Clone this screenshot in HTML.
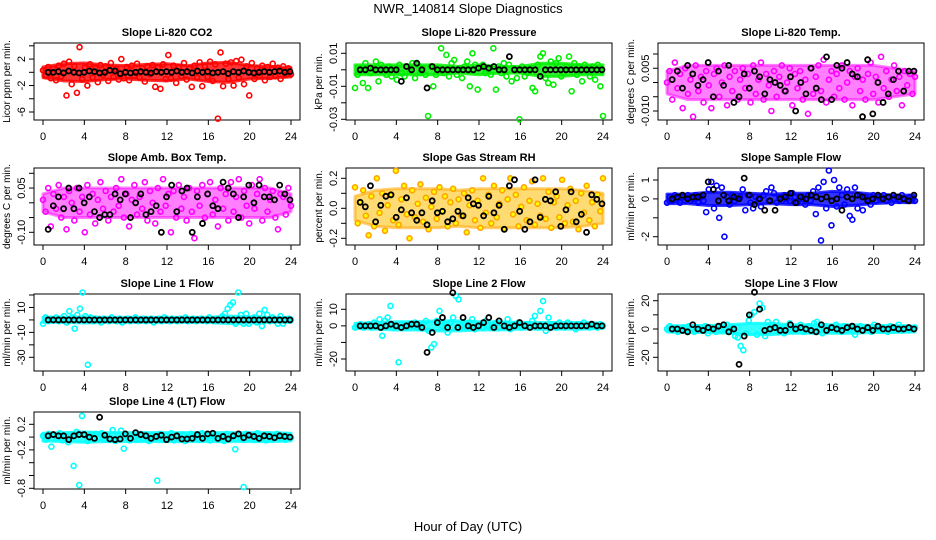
<!DOCTYPE html>
<html><head><meta charset="utf-8"><style>
html,body{margin:0;padding:0;background:#fff;}
svg{display:block;font-family:"Liberation Sans",Arial,sans-serif;}
</style></head><body>
<svg id="chart" width="936" height="540" viewBox="0 0 936 540">
<text x="468" y="13" text-anchor="middle" font-size="13">NWR_140814  Slope Diagnostics</text>
<text x="468" y="531" text-anchor="middle" font-size="13">Hour of Day (UTC)</text>
</svg>
<script>
const xTicks=[0,4,8,12,16,20,24];
const bandHours=[0,2,4,6,8,10,12,14,16,18,20,22,24];
const co2=[0.3,-0.5,0.8,-0.9,0.5,-1.2,1.0,-0.6,1.3,-3.5,1.6,-1.8,0.9,-3.1,3.8,-1.0,0.7,-2.0,1.2,-0.8,0.6,-1.5,1.1,-0.4,0.9,-1.3,1.4,-0.7,0.5,-1.1,2.0,-0.9,0.8,-1.2,1.0,-0.5,1.3,-0.8,0.6,-1.4,0.9,-0.3,1.1,-2.2,0.7,-2.5,1.2,-1.0,2.6,-0.9,1.0,-1.6,0.8,-0.6,1.4,-1.1,0.6,-2.2,1.0,-0.8,1.5,-2.1,0.9,-0.7,1.6,-1.3,1.2,-7.0,3.0,-2.1,1.3,-1.0,1.5,-2.0,1.7,-0.8,1.9,-1.8,0.9,-3.5,1.4,-1.0,0.6,-0.5,1.0,-1.2,0.8,-0.7,1.3,-0.6,0.7,-1.0,0.9,-0.4,0.6,-0.3];
const co2Band=[0.8,1.3,1.4,1.1,1.0,1.2,1.3,1.0,1.4,1.5,1.0,0.9,0.7];
const co2Ref=[0,0,0.1,-0.1,0.2,0,-0.1,0,0.2,0.1,-0.1,0,0.3,0.2,-0.2,0,-0.1,0,0.1,0,-0.1,0.1,0,0.1,0,0.2,0,0.1,-0.1,0.2,0,0.1,-0.1,0,0.1,-0.2,0.1,0,0.2,0,-0.1,0,0.1,0,0.1,0.2,0,0.1];
const pres=[-0.011,-0.003,0.001,-0.008,0.004,-0.011,-0.002,0.001,0.005,-0.007,0.003,-0.001,-0.003,0.002,-0.004,0.001,-0.006,0.003,-0.002,-0.004,0.002,-0.001,0.004,-0.005,0.003,-0.002,0.001,-0.003,-0.028,0.002,-0.010,-0.003,0.001,0.013,-0.002,0.009,-0.004,0.004,0.006,-0.003,0.001,-0.005,0.002,0.005,-0.010,0.010,0.003,-0.012,0.002,0.003,-0.002,0.000,-0.003,0.013,-0.012,0.002,-0.002,0.004,-0.004,0.003,-0.007,0.001,-0.005,-0.030,0.002,-0.004,-0.002,0.001,-0.011,-0.013,0.003,0.008,0.010,-0.005,-0.008,0.005,-0.009,0.004,0.007,-0.004,-0.002,0.002,0.008,-0.013,0.004,-0.003,0.002,-0.007,0.003,0.001,-0.004,0.002,-0.006,0.003,-0.010,-0.028];
const presBand=[0.003,0.003,0.003,0.003,0.003,0.002,0.003,0.002,0.002,0.004,0.004,0.003,0.003];
const presRef=[0,0,0.001,0,0,0,0,0,-0.007,0.002,0,0.004,0,-0.011,0.002,0,0,0,0,0,0,0,0,0.001,0.002,0.001,0.002,0,0,0.008,0,0,0,0,0,-0.004,0,0,0,0,0,0,0,0,0,0,0,0];
const temp=[0.000,0.004,-0.006,0.007,-0.002,0.003,-0.009,0.005,-0.004,0.001,-0.012,0.006,-0.003,0.002,-0.007,0.004,-0.001,-0.009,0.003,0.005,-0.005,0.000,0.006,-0.008,0.002,-0.003,0.004,-0.006,0.001,0.005,-0.002,0.003,-0.007,0.006,-0.004,0.001,0.007,-0.006,0.003,-0.001,-0.010,0.004,-0.005,0.002,0.006,-0.003,0.000,0.005,-0.008,0.003,-0.002,0.004,-0.006,0.001,-0.011,0.005,-0.004,0.002,0.006,-0.003,0.008,-0.007,0.001,0.004,-0.005,0.003,-0.002,0.006,-0.006,0.000,0.004,-0.008,0.002,0.005,-0.003,0.001,-0.006,0.003,0.007,-0.004,0.002,-0.007,0.009,-0.002,0.004,-0.005,0.001,0.006,-0.003,0.002,-0.008,0.004,-0.001,0.003,-0.004,0.002];
const tempBand=[0.004,0.006,0.006,0.006,0.006,0.006,0.006,0.006,0.006,0.006,0.006,0.005,0.004];
const tempRef=[0.001,0.004,-0.002,0.006,0.003,-0.001,0.001,0.007,-0.005,0.004,-0.001,0.006,-0.007,-0.005,0.003,-0.002,0.004,0.002,-0.004,0.001,0.000,-0.001,-0.003,0.002,-0.010,0.000,-0.004,0.005,-0.002,-0.006,0.009,-0.006,0.006,0.005,0.007,0.003,0.002,-0.012,0.008,-0.011,0.000,-0.007,-0.004,0.001,0.004,-0.003,0.004,0.004];
const amb=[0.01,-0.03,0.05,-0.08,0.03,-0.02,0.06,-0.05,0.02,-0.09,0.04,0.00,-0.06,0.05,-0.03,0.02,-0.10,0.06,-0.04,0.03,-0.07,0.01,0.07,-0.02,0.04,-0.06,0.02,-0.03,0.05,-0.01,0.08,-0.05,0.03,-0.08,0.01,0.06,-0.04,0.02,-0.02,0.07,-0.06,0.04,0.00,-0.07,0.05,-0.03,0.08,-0.01,0.03,-0.10,0.04,-0.05,0.06,-0.02,0.02,-0.06,0.05,-0.03,-0.12,0.04,-0.01,0.06,-0.05,0.03,0.07,-0.04,0.01,-0.08,0.05,-0.02,0.03,-0.06,0.07,-0.03,0.02,0.08,-0.05,0.04,-0.01,-0.07,0.06,-0.02,0.03,0.08,-0.06,0.05,-0.03,0.01,0.04,-0.05,-0.09,0.03,0.02,-0.04,0.05,-0.01];
const ambBand=[0.03,0.05,0.05,0.05,0.05,0.05,0.05,0.05,0.05,0.05,0.05,0.05,0.03];
const ambRef=[-0.09,-0.01,0.02,-0.02,0.05,-0.02,0.05,0.00,0.02,-0.03,-0.05,-0.04,-0.04,0.03,0.01,0.03,-0.05,0.00,0.03,-0.04,-0.03,-0.01,-0.10,0.02,0.06,-0.03,0.04,0.05,-0.10,0.02,-0.07,0.03,-0.01,-0.02,0.07,0.05,0.03,-0.05,0.02,0.06,0.00,0.06,0.02,0.02,0.01,0.06,0.03,0.01];
const rh=[0.14,-0.10,0.04,0.12,-0.05,-0.18,0.08,-0.12,0.20,-0.03,0.10,-0.15,0.02,0.09,-0.08,0.25,-0.11,0.06,0.15,-0.04,-0.20,0.12,-0.06,0.03,0.16,-0.09,0.07,-0.14,0.01,0.11,-0.07,0.14,-0.02,0.08,-0.12,0.04,0.13,-0.10,0.06,-0.05,0.10,-0.16,0.02,0.12,-0.08,0.05,-0.13,0.20,-0.03,0.09,-0.10,0.15,-0.06,0.03,0.12,-0.14,0.06,0.20,-0.04,0.09,-0.12,0.01,0.14,-0.08,0.05,0.18,-0.11,0.03,-0.05,0.20,-0.07,0.11,-0.13,0.04,0.08,-0.06,0.19,-0.10,0.02,0.13,-0.09,0.05,-0.14,0.10,-0.03,0.15,-0.08,0.04,-0.12,0.09,-0.02,0.20];
const rhBand=[0.08,0.12,0.13,0.13,0.13,0.12,0.13,0.13,0.13,0.13,0.13,0.12,0.10];
const rhRef=[0.04,0.01,0.15,-0.09,0.02,0.08,0.09,-0.06,-0.01,0.07,-0.03,-0.08,-0.03,-0.11,0.05,-0.03,-0.02,-0.09,-0.07,-0.02,-0.05,0.07,0.03,0.02,-0.05,0.08,-0.03,0.02,-0.14,0.15,0.19,-0.02,-0.14,-0.09,0.19,-0.06,0.06,0.05,0.11,-0.12,-0.01,0.11,-0.09,-0.04,-0.16,0.09,0.06,0.03];
const samp=[-0.2,0.1,-0.1,0.2,0.0,-0.2,0.1,-0.1,0.2,-0.1,0.0,0.2,-0.2,0.1,-0.1,-0.7,0.5,0.9,-0.5,0.7,-1.0,0.6,-2.0,0.1,-0.3,0.2,-0.1,0.0,0.1,0.5,-0.6,0.2,-0.2,-0.5,0.1,0.0,-0.4,0.2,0.4,-0.1,0.6,0.3,-0.2,0.1,-0.1,0.2,0.0,-0.1,0.3,0.1,-0.2,0.1,0.0,-0.3,0.2,-0.1,0.4,-0.8,0.6,-2.2,0.9,-0.5,1.5,-1.4,1.0,-0.4,0.6,0.2,-0.3,0.5,-0.9,-1.1,0.6,-0.5,0.2,-0.6,0.1,0.0,-0.3,0.2,-0.1,0.1,0.0,0.2,-0.1,0.1,-0.2,0.0,0.1,-0.1,0.2,0.0,-0.1,0.1,0.0,-0.1];
const sampBand=[0.25,0.25,0.35,0.35,0.3,0.25,0.3,0.3,0.4,0.35,0.25,0.2,0.2];
const sampRef=[0,0.1,0.2,0,0.1,0.1,0.2,0.9,0.5,-0.1,0.2,-0.1,0.1,0,1.1,0.2,-0.3,0,-0.6,-0.1,-0.6,0,0.1,0.3,-0.2,0.1,0,0.2,0.1,0,0.1,-0.1,0,-0.6,0.1,0,0.2,0.1,-0.1,0,0.2,0,0.1,0.2,0.1,0,-0.1,0.2];
const line1=[-3,2,-1,1,0,2,-1,1,3,-2,7,2,-7,4,9,22,3,-36,2,-1,1,0,-2,1,0,-1,2,0,-1,1,-2,0,1,-1,0,2,-1,0,1,-1,0,1,-2,0,1,-1,2,0,-1,1,0,-1,1,0,2,-1,0,1,-1,0,1,0,-1,2,0,-1,1,0,3,5,9,12,14,-3,22,4,-3,5,-3,1,2,-2,5,-5,8,4,-1,2,0,-3,3,-3,0,1,0];
const line1Band=[2,2,2.5,2,2,2,2,2,2,3,2.5,2,2];
const line1Ref=[0,0,0,0,0,0,0,0,0,0,0,0,0,0,0,0,0,0,0,0,0,0,0,0,0,0,0,0,0,0,0,0,0,0,0,0,0,0,0,0,0,0,0,0,0,0,0,0];
const line2=[-1,0,1,-1,0,1,-1,2,0,4,-6,3,5,12,-1,0,-22,1,0,-1,1,0,2,-1,0,1,3,-3,-13,-11,3,9,0,1,-4,2,5,18,16,0,1,-1,2,4,-2,0,1,-1,3,0,-1,0,2,-1,1,0,4,-2,0,1,2,-1,0,1,0,3,6,-1,9,15,-3,5,1,0,-1,2,0,-1,2,1,0,-2,1,0,2,0,-1,1,0,-1,1,0];
const line2Band=[1.5,2,2.5,2.5,3,3,2.5,2.5,2,2,2,2,1.5];
const line2Ref=[0,0,0,0,-1,0,1,0,-1,0,1,1,-1,-16,-4,2,5,-1,20,-1,5,0,-1,0,2,5,-1,3,0,-1,0,2,0,-1,0,0,0,-1,0,0,0,0,0,0,0,1,0,0];
const line3=[0,2,-1,1,-2,0,1,-1,2,0,-2,1,0,-1,2,-3,1,0,-2,2,-1,0,3,-2,1,-5,-6,-12,-15,-3,6,10,12,-4,18,15,-5,5,0,3,5,-2,0,-3,2,4,-1,0,1,3,-2,0,2,-1,4,5,0,-3,2,0,1,-1,3,0,-2,2,-1,0,1,-4,0,2,-1,1,0,-2,3,0,-1,1,0,-2,2,-1,0,3,-1,1,0,-1,0,1];
const line3Band=[2,2.5,2.5,3,4,4,3,3,3,3,2.5,2.5,2];
const line3Ref=[0,0,-1,-2,3,0,-1,1,0,2,3,-2,0,-25,-5,10,26,14,-1,0,1,-1,-1,3,0,1,0,-1,-2,3,-1,1,0,-1,1,2,0,-1,1,-1,2,0,0,1,0,0,1,0];
const line4=[0.02,-0.04,0.05,-0.15,0.03,-0.02,0.06,-0.05,0.01,-0.08,0.04,-0.45,0.08,-0.75,0.33,0.02,-0.06,0.04,-0.03,0.05,-0.01,0.06,-0.04,0.02,-0.03,0.11,-0.06,0.04,0.10,-0.18,0.02,-0.05,0.03,0.00,-0.04,0.05,-0.02,0.04,-0.06,0.03,-0.01,-0.68,0.05,-0.04,0.02,-0.03,0.06,-0.05,0.03,-0.02,0.04,-0.06,0.01,0.05,-0.03,0.02,-0.04,0.06,-0.02,0.03,-0.05,0.02,0.04,-0.03,0.01,-0.06,0.05,-0.02,0.03,-0.19,0.04,-0.03,-0.78,0.05,-0.02,0.03,-0.04,0.06,-0.01,0.02,-0.05,0.04,-0.03,0.01,0.05,-0.02,0.03,-0.04,0.02,-0.01];
const line4Band=[0.06,0.07,0.08,0.07,0.07,0.07,0.07,0.07,0.07,0.07,0.07,0.07,0.06];
const line4Ref=[0.02,0.04,0.02,0.02,-0.04,0.02,0.04,0.04,0.00,-0.02,0.31,0.03,-0.03,-0.04,-0.03,0.05,-0.02,0.07,0.04,0.02,-0.02,0.01,0.03,-0.04,0.00,0.02,-0.03,-0.03,-0.02,0.04,-0.02,0.05,0.06,-0.02,0.01,-0.03,0.02,0.05,-0.01,0.03,0.01,-0.02,0.02,0.01,-0.01,0.02,0.01,0.00];

const svg=document.getElementById('chart');
const NS='http://www.w3.org/2000/svg';
function mk(tag,attrs,parent){const e=document.createElementNS(NS,tag);for(const k in attrs)e.setAttribute(k,attrs[k]);(parent||svg).appendChild(e);return e;}

const colLeft=[34,346,658];
const rowTop=[43,168,294,412];
const W=266,H=77;
const panels=[
 {name:'co2',title:'Slope Li-820 CO2',yl:'Licor ppm per min.',c:0,r:0,d:co2,b:co2Band,k:co2Ref,col:'#ff0000',op:0.8,ticks:[4,2,0,-2,-4,-6],labels:['','2','','-2','','-6'],v0:0,p0:29.3,v1:-6,p1:69},
 {name:'pressure',title:'Slope Li-820 Pressure',yl:'kPa per min.',c:1,r:0,d:pres,b:presBand,k:presRef,col:'#00ee00',op:0.8,ticks:[0.01,0,-0.01,-0.02,-0.03],labels:['0.01','','-0.01','','-0.03'],v0:0.01,p0:10.3,v1:-0.03,p1:76.3},
 {name:'temp',title:'Slope Li-820 Temp.',yl:'degrees C per min.',c:2,r:0,d:temp,b:tempBand,k:tempRef,col:'#ff00ff',op:0.5,ticks:[0.01,0.005,0,-0.005,-0.01],labels:['','0.005','','','-0.010'],v0:0.01,p0:11,v1:-0.01,p1:68},
 {name:'ambbox',title:'Slope Amb. Box Temp.',yl:'degrees C per min.',c:0,r:1,d:amb,b:ambBand,k:ambRef,col:'#ff00ff',op:0.5,ticks:[0.1,0.05,0,-0.05,-0.1],labels:['','0.05','','','-0.10'],v0:0.1,p0:5.3,v1:-0.1,p1:64.3},
 {name:'rh',title:'Slope Gas Stream RH',yl:'percent per min.',c:1,r:1,d:rh,b:rhBand,k:rhRef,col:'#ffa500',fill:'#ffff00',op:0.55,ticks:[0.2,0.1,0,-0.1,-0.2],labels:['0.2','','0.0','','-0.2'],v0:0.2,p0:10.3,v1:-0.2,p1:70.3},
 {name:'sampleflow',title:'Slope Sample Flow',yl:'ml/min per min.',c:2,r:1,d:samp,b:sampBand,k:sampRef,col:'#0000ff',op:0.8,ticks:[1,0,-1,-2],labels:['1','0','','-2'],v0:1,p0:12,v1:-2,p1:68.7},
 {name:'line1',title:'Slope Line 1 Flow',yl:'ml/min per min.',c:0,r:2,d:line1,b:line1Band,k:line1Ref,col:'#00ffff',op:0.8,ticks:[20,10,0,-10,-20,-30],labels:['','10','','-10','','-30'],v0:20,p0:1,v1:-30,p1:63.3},
 {name:'line2',title:'Slope Line 2 Flow',yl:'ml/min per min.',c:1,r:2,d:line2,b:line2Band,k:line2Ref,col:'#00ffff',op:0.8,ticks:[10,0,-10,-20],labels:['10','0','','-20'],v0:10,p0:15.3,v1:-20,p1:65},
 {name:'line3',title:'Slope Line 3 Flow',yl:'ml/min per min.',c:2,r:2,d:line3,b:line3Band,k:line3Ref,col:'#00ffff',op:0.8,ticks:[20,10,0,-10,-20],labels:['20','','0','','-20'],v0:20,p0:6.7,v1:-20,p1:63.3},
 {name:'line4',title:'Slope Line 4 (LT) Flow',yl:'ml/min per min.',c:0,r:3,d:line4,b:line4Band,k:line4Ref,col:'#00ffff',op:0.8,ticks:[0.2,0,-0.2,-0.4,-0.6,-0.8],labels:['0.2','','-0.2','','','-0.8'],v0:0.2,p0:12.3,v1:-0.8,p1:76.3}
];

panels.forEach(p=>{
  const L=colLeft[p.c],T=rowTop[p.r];
  const g=mk('g',{});
  
  
  const xs=h=>L+9+h*(248/24);
  const ys=v=>T+p.p0+(v-p.v0)*(p.p1-p.p0)/(p.v1-p.v0);
  const t=mk('text',{x:L+W/2,y:T-7,'text-anchor':'middle','font-size':11,'font-weight':'bold'},g);
  t.textContent=p.title;
  
  
  let pts=[];
  bandHours.forEach((h,i)=>pts.push(xs(h)+','+ys(p.b[i])));
  for(let i=bandHours.length-1;i>=0;i--)pts.push(xs(bandHours[i])+','+ys(-p.b[i]));
  const band=mk('polygon',{points:pts.join(' '),fill:p.fill?'#ffc000':p.col,'fill-opacity':p.op,stroke:p.col,'stroke-opacity':p.op,'stroke-width':3,'stroke-linejoin':'round'},g);
  
  
  const box=mk('rect',{x:L,y:T,width:W,height:H,fill:'none',stroke:'#000','stroke-width':1},g);
  
  
  const xa=mk('g',{},g);
  
  
  mk('line',{x1:xs(0),x2:xs(24),y1:T+H,y2:T+H,stroke:'#000'},xa);
  xTicks.forEach(v=>{
    mk('line',{x1:xs(v),x2:xs(v),y1:T+H,y2:T+H+5,stroke:'#000'},xa);
    const tl=mk('text',{x:xs(v),y:T+H+20,'text-anchor':'middle','font-size':11},xa);
    tl.textContent=v;
    
    
  });
  const ya=mk('g',{},g);
  
  
  mk('line',{x1:L,x2:L,y1:ys(p.ticks[0]),y2:ys(p.ticks[p.ticks.length-1]),stroke:'#000'},ya);
  p.ticks.forEach((v,i)=>{
    const y=ys(v);
    mk('line',{x1:L-5,x2:L,y1:y,y2:y,stroke:'#000'},ya);
    if(p.labels[i]){
      const tl=mk('text',{x:L-9,y:y,'text-anchor':'middle','font-size':11,transform:'rotate(-90 '+(L-9)+' '+y+')'},ya);
      tl.textContent=p.labels[i];
      
      
    }
  });
  const yt=mk('text',{x:L-24,y:T+H/2,'text-anchor':'middle','font-size':10,transform:'rotate(-90 '+(L-24)+' '+(T+H/2)+')'},g);
  yt.textContent=p.yl;
  
  
  const sg=mk('g',{fill:p.fill||'none',stroke:p.col,'stroke-width':1.6},g);
  
  
  const n=p.d.length;
  p.d.forEach((v,i)=>{
    const h=i*24/(n-1);
    const c=mk('circle',{cx:xs(h),cy:ys(v),r:2.5},sg);
    
    
  });
  const kg=mk('g',{fill:'none',stroke:'#000','stroke-width':1.8},g);
  
  
  const m=p.k.length;
  p.k.forEach((v,i)=>{
    const h=0.5+i*23.4/(m-1);
    const c=mk('circle',{cx:xs(h),cy:ys(v),r:2.5},kg);
    
    
  });
});
</script>
</body></html>
